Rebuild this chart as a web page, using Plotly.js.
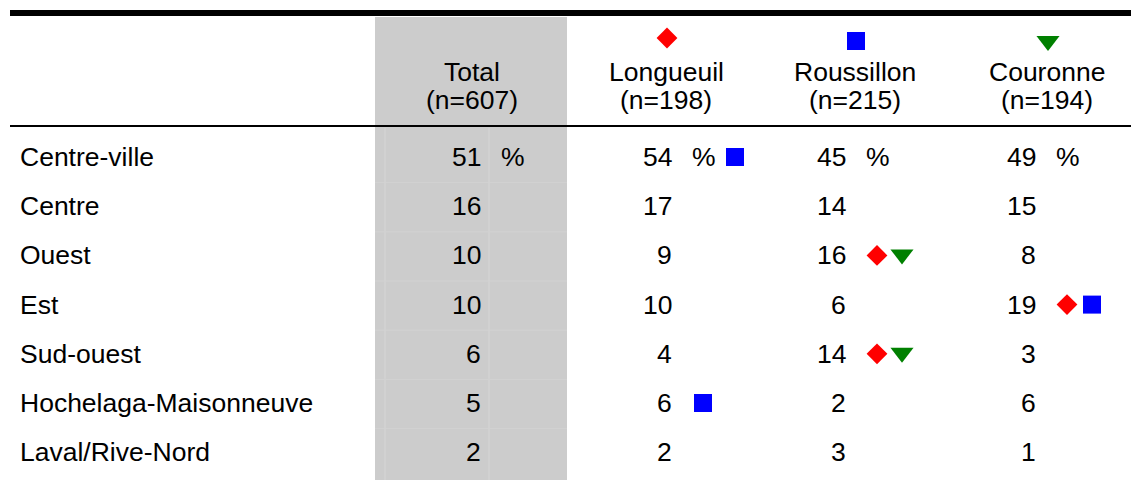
<!DOCTYPE html>
<html>
<head>
<meta charset="utf-8">
<script src="https://cdn.plot.ly/plotly-3.0.1.min.js"></script>
<style>html,body{margin:0;padding:0;background:#fff;}#chart{width:1131px;height:480px;}</style>
</head>
<body>
<div id="chart"></div>
<script>
// ---- Data ----
const regions = ['Centre-ville','Centre','Ouest','Est','Sud-ouest','Hochelaga-Maisonneuve','Laval/Rive-Nord'];
const groups = ['Total','Longueuil','Roussillon','Couronne'];
const groupN = [607, 198, 215, 194];
const totalVals = [51,16,10,10,6,5,2];
const longueuilVals = [54,17,9,10,4,6,2];
const roussillonVals = [45,14,16,6,14,2,3];
const couronneVals = [49,15,8,19,3,6,1];
// significance flags: which other groups the value is significantly higher than
const longueuilSig = [['Roussillon'],[],[],[],[],['Roussillon'],[]];
const roussillonSig = [[],[],['Longueuil','Couronne'],[],['Longueuil','Couronne'],[],[]];
const couronneSig = [[],[],[],['Longueuil','Roussillon'],[],[],[]];

// ---- Layout constants ----
const W = 1131, H = 480;
const FONT = 'Liberation Sans, Arial, sans-serif';
const FS = 26.5;
const rowY0 = 157, rowStep = 49.2;
const rowY = i => rowY0 + i*rowStep;
const colNumRight = [481, 672, 846, 1036];
const colCenter = [472, 666, 855, 1047];
const symbolFor = {Longueuil:'diamond', Roussillon:'square', Couronne:'triangle-down'};
const colorFor = {Longueuil:'#ff0000', Roussillon:'#0000ff', Couronne:'#008000'};
const sizeFor = {Longueuil:16, Roussillon:18, Couronne:20};

const colVals = [totalVals, longueuilVals, roussillonVals, couronneVals];
const colSig = [null, longueuilSig, roussillonSig, couronneSig];

const annotations = [];
const txt = (x, y, text, xanchor) => annotations.push({
  x, y, xref:'x', yref:'y', text, showarrow:false, xanchor, yanchor:'middle',
  borderpad:0, font:{family:FONT, size:FS, color:'#000'}
});

// header
groups.forEach((g, c) => {
  txt(colCenter[c], 72, g, 'center');
  txt(colCenter[c], 100, '(n=' + groupN[c] + ')', 'center');
});
// row labels
regions.forEach((r, i) => txt(19, rowY(i), r, 'left'));
// values
colVals.forEach((vals, c) => {
  vals.forEach((v, i) => {
    txt(colNumRight[c] + 1, rowY(i), String(v), 'right');
    if (i === 0) txt(colNumRight[c] + 19, rowY(i), '%', 'left');
  });
});

// markers
const mk = {};
groups.slice(1).forEach(g => mk[g] = {x:[], y:[]});
// header markers
groups.slice(1).forEach((g, k) => {
  mk[g].x.push(colCenter[k+1] + 1);
  mk[g].y.push(g === 'Longueuil' ? 38 : 41);
});
colSig.forEach((sig, c) => {
  if (!sig) return;
  sig.forEach((list, i) => {
    list.forEach((g, j) => {
      const start = colNumRight[c] + (i === 0 ? 63 : 31);
      mk[g].x.push(start + j*25);
      mk[g].y.push(rowY(i) + (g === 'Couronne' ? -1 : 0));
    });
  });
});
const traces = groups.slice(1).map(g => ({
  type:'scatter', mode:'markers', x:mk[g].x, y:mk[g].y, name:g,
  marker:{symbol:symbolFor[g], color:colorFor[g], size:sizeFor[g], line:{width:0}},
  hoverinfo:'skip', showlegend:false, cliponaxis:false
}));

const shapes = [
  // grey Total column
  {type:'rect', xref:'x', yref:'y', x0:375, x1:567, y0:17, y1:480, fillcolor:'#cccccc', line:{width:0}, layer:'below'},
  // faint inner lines in grey column
  {type:'line', xref:'x', yref:'y', x0:385, x1:385, y0:128, y1:480, line:{color:'#d6d6d6', width:1}, layer:'below'},
  {type:'line', xref:'x', yref:'y', x0:489, x1:489, y0:128, y1:480, line:{color:'#d6d6d6', width:1}, layer:'below'},
  // top thick rule
  {type:'line', xref:'x', yref:'y', x0:10, x1:1131, y0:13, y1:13, line:{color:'#000', width:6}},
  // header rule
  {type:'line', xref:'x', yref:'y', x0:10, x1:1131, y0:126, y1:126, line:{color:'#000', width:2}}
];
// faint row separators inside grey column
regions.slice(1).forEach((r, i) => {
  const y = rowY(i) + rowStep/2 + 1;
  shapes.push({type:'line', xref:'x', yref:'y', x0:375, x1:567, y0:y, y1:y, line:{color:'#d2d2d2', width:1}, layer:'below'});
});

const layout = {
  width:W, height:H, margin:{l:0,r:0,t:0,b:0},
  paper_bgcolor:'#fff', plot_bgcolor:'#fff',
  xaxis:{range:[0,W], visible:false, fixedrange:true},
  yaxis:{range:[H,0], visible:false, fixedrange:true},
  shapes, annotations, showlegend:false
};
Plotly.newPlot('chart', traces, layout, {displayModeBar:false, staticPlot:true});
</script>
</body>
</html>
